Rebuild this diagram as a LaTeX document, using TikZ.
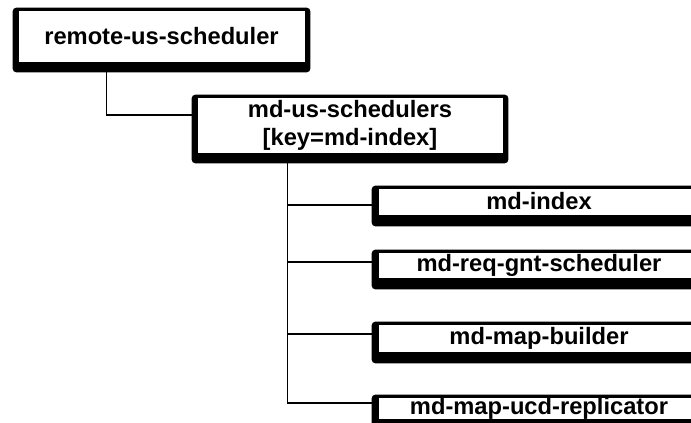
\documentclass[tikz,border=0pt]{standalone}
\usepackage{fontspec}
\setmainfont{Liberation Sans}
\usetikzlibrary{backgrounds}
\begin{document}
\begin{tikzpicture}[x=1pt,y=-1pt,
  box/.style={draw=black, line width=0.9pt, fill=white, inner sep=0pt,
    font=\fontsize{23.7}{28}\selectfont\bfseries, align=center},
  backing/.style={fill=black, rounded corners=4pt},
  link/.style={line width=1.3pt, line cap=rect}]
\useasboundingbox (0,0) rectangle (691,423);
\clip (0,0) rectangle (691,423);

% tree nodes
\node[box, minimum width=287, minimum height=52] (root) at (161.5,36) {remote-us-scheduler};
\node[box, minimum width=306, minimum height=56] (group) at (350,125) {md-us-schedulers\\{}[key=md-index]};
\node[box, minimum width=322, minimum height=27] (c1) at (539,201.5) {md-index};
\node[box, minimum width=322, minimum height=26] (c2) at (539,265) {md-req-gnt-scheduler};
\node[box, minimum width=322, minimum height=28] (c3) at (539,338) {md-map-builder};
\node[box, minimum width=322, minimum height=22] (c4) at (539,408) {md-map-ucd-replicator};

% heavy black frames behind the boxes
\begin{scope}[on background layer]
  \foreach \n in {root,group}
    \fill[backing] ([shift={(-5pt,2pt)}]\n.north west) rectangle ([shift={(5pt,-10pt)}]\n.south east);
  \foreach \n in {c1,c2,c3,c4}
    \fill[backing] ([shift={(-6pt,2pt)}]\n.north west) rectangle ([shift={(5pt,-11pt)}]\n.south east);
\end{scope}

% connectors
\coordinate (r0) at ([xshift=89pt]root.south west);
\coordinate (g0) at ([yshift=10pt]group.west);
\draw[link] (r0) |- (g0);

\coordinate (trunk) at ([xshift=91pt]group.south west);
\coordinate (s1) at ([yshift=-3.5pt]c1.west);
\coordinate (s2) at ([yshift=3pt]c2.west);
\coordinate (s3) at ([yshift=4pt]c3.west);
\coordinate (s4) at ([yshift=5pt]c4.west);
\draw[link] (trunk) |- (s4);
\foreach \s in {s1,s2,s3}
  \draw[link] (trunk |- \s) -- (\s);
\end{tikzpicture}
\end{document}
